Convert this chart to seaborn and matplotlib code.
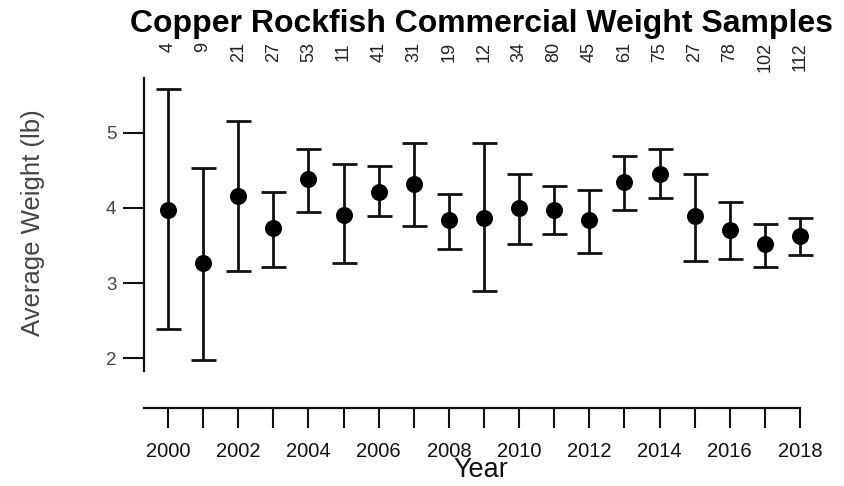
import numpy as np
import pandas as pd
import matplotlib
matplotlib.use("Agg")
import matplotlib.pyplot as plt
import matplotlib.transforms as mtransforms
import seaborn as sns

# values
years = [2000, 2001, 2002, 2003, 2004, 2005, 2006, 2007, 2008, 2009,
         2010, 2011, 2012, 2013, 2014, 2015, 2016, 2017, 2018]
mean_wt = [3.97, 3.27, 4.16, 3.73, 4.38, 3.91, 4.21, 4.32, 3.84, 3.87,
           4.00, 3.97, 3.84, 4.34, 4.45, 3.89, 3.70, 3.52, 3.63]
lower = [2.39, 1.98, 3.16, 3.22, 3.94, 3.27, 3.89, 3.76, 3.46, 2.90,
         3.52, 3.65, 3.40, 3.97, 4.13, 3.29, 3.32, 3.21, 3.38]
upper = [5.58, 4.53, 5.16, 4.21, 4.78, 4.59, 4.56, 4.86, 4.18, 4.86,
         4.45, 4.29, 4.24, 4.69, 4.78, 4.45, 4.08, 3.78, 3.87]
n_samples = [4, 9, 21, 27, 53, 11, 41, 31, 19, 12,
             34, 80, 45, 61, 75, 27, 78, 102, 112]
year_ticks = [2000, 2002, 2004, 2006, 2008, 2010, 2012, 2014, 2016, 2018]
wt_ticks = [2, 3, 4, 5]

df = pd.DataFrame({"year": years, "wt": mean_wt, "lo": lower, "hi": upper, "n": n_samples})

sns.set_style("ticks")
plt.rcParams["font.family"] = ["Liberation Sans", "DejaVu Sans"]

W, H = 844, 486
fig = plt.figure(figsize=(W / 100, H / 100), dpi=100)

# axes box in pixels (left, top, right, bottom)
px_l, px_t, px_r, px_b = 144, 78, 818, 408
ax = fig.add_axes([px_l / W, 1 - px_b / H, (px_r - px_l) / W, (px_b - px_t) / H])

# data <-> pixel mapping
ppy = 35.11          # pixels per year
ppu = 75.2           # pixels per lb
x0 = 2000 - (168 - px_l) / ppy
x1 = 2000 + (px_r - 168) / ppy
y_top = 5 + (132.7 - px_t) / ppu
y_bot = 2 - (px_b - 358.3) / ppu
ax.set_xlim(x0, x1)
ax.set_ylim(y_bot, y_top)

# error bars
ax.errorbar(df["year"], df["wt"],
            yerr=[df["wt"] - df["lo"], df["hi"] - df["wt"]],
            fmt="none", ecolor="#111111", elinewidth=2, capsize=9, capthick=2, zorder=2)
sns.scatterplot(data=df, x="year", y="wt", ax=ax, color="black", s=150,
                marker="o", edgecolor="black", linewidth=0, zorder=3, legend=False)

# axes styling (R-like detached axes)
sns.despine(ax=ax, top=True, right=True)
ax.spines["left"].set_bounds(2 - (371 - 358.3) / ppu, y_top)
ax.spines["bottom"].set_bounds(x0, 2018)
for s in ("left", "bottom"):
    ax.spines[s].set_linewidth(1.6)
    ax.spines[s].set_color("#111111")

ax.set_xticks(years)
ax.set_xticklabels([str(y) if y in year_ticks else "" for y in years])
ax.set_yticks(wt_ticks)
ax.set_yticklabels([str(v) for v in wt_ticks])
ax.tick_params(axis="x", length=14.5, width=1.5, color="#111111", labelsize=14.5,
               pad=10, labelcolor="#111111")
ax.tick_params(axis="y", length=15, width=1.5, color="#111111", labelsize=13.5,
               pad=5, labelcolor="#444444")
ax.set_xlabel("")
ax.set_ylabel("")

# axis labels and title
fig.text(481 / W, 1 - 470 / H, "Year", ha="center", va="center", fontsize=19.5, color="#111111")
fig.text(33 / W, 1 - 223 / H, "Average Weight (lb)", ha="center", va="center",
         rotation=90, fontsize=18.5, color="#444444")
fig.text(481 / W, 1 - 32 / H, "Copper Rockfish Commercial Weight Samples",
         ha="center", va="baseline", fontsize=23, fontweight="bold", color="black")

# sample sizes above each year
trans = mtransforms.blended_transform_factory(ax.transData, fig.transFigure)
for yr, n in zip(years, n_samples):
    ax.text(yr, 1 - 42 / H, str(n), transform=trans, rotation=90,
            ha="center", va="top", fontsize=13, color="#222222")

fig.savefig("out.png", dpi=100)
